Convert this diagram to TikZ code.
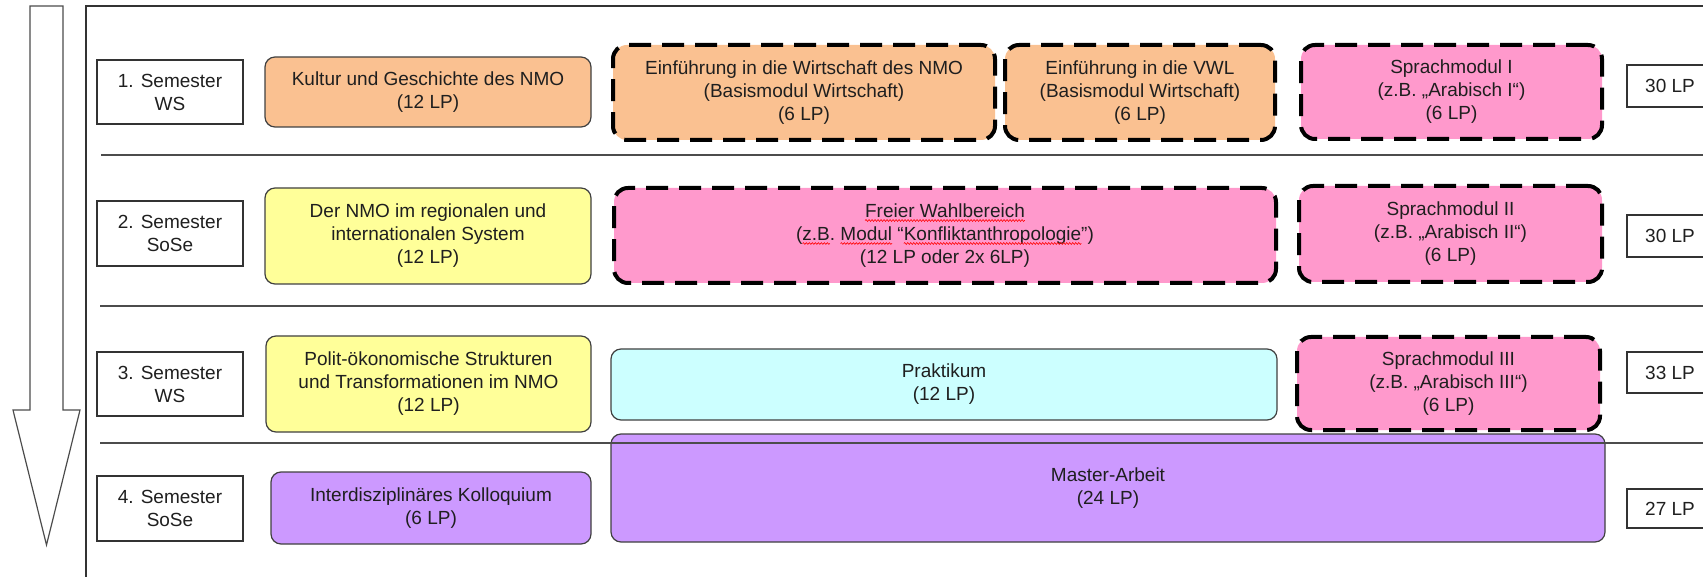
\documentclass[tikz,border=0pt]{standalone}
\usepackage{fontspec}
\setmainfont{Liberation Sans}
\usetikzlibrary{calc,decorations.pathmorphing}

\definecolor{txt}{HTML}{1F1F1F}
\definecolor{modorange}{HTML}{FAC191}
\definecolor{modyellow}{HTML}{FFFF99}
\definecolor{modpink}{HTML}{FF99CC}
\definecolor{modcyan}{HTML}{CCFFFF}
\definecolor{modpurple}{HTML}{CC99FF}

\newcommand{\modfont}{\fontsize{19}{23}\selectfont}
\newlength{\wahlA}\settowidth{\wahlA}{\modfont Freier Wahlbereich}
\newlength{\wahlL}\settowidth{\wahlL}{\modfont (z.B. Modul “Konfliktanthropologie”)}
\newlength{\preB}\settowidth{\preB}{\modfont (}
\newlength{\wahlB}\settowidth{\wahlB}{\modfont z.B}
\newlength{\preC}\settowidth{\preC}{\modfont (z.B. }
\newlength{\wahlC}\settowidth{\wahlC}{\modfont Modul}
\newlength{\preD}\settowidth{\preD}{\modfont (z.B. Modul “}
\newlength{\wahlD}\settowidth{\wahlD}{\modfont Konfliktanthropologie}

\tikzset{
  semester/.style={draw=black!80, line width=1.2pt, fill=white, text=txt, align=center, inner sep=0pt},
  modul/.style={draw=black!75, line width=1.2pt, rounded corners=10pt, text=txt, align=center, inner sep=0pt},
  wahl/.style={draw=black, line width=4pt, dash pattern=on 22pt off 11pt, rounded corners=14pt, text=txt, align=center, inner sep=0pt},
  spellmark/.style={red, line width=0.6pt, decorate, decoration={snake, amplitude=0.9pt, segment length=3pt}}
}

\begin{document}
\begin{tikzpicture}[x=1pt, y=-1pt, font=\modfont]
  \useasboundingbox (0,0) rectangle (1703,577);
  \clip (0,0) rectangle (1703,577);

  \draw[line width=1.2pt, black!70] (30,6) -- (63,6) -- (63,410) -- (80,410) -- (46.5,545) -- (13,410) -- (30,410) -- cycle;
  \draw[line width=1.2pt, black!80] (86,600) -- (86,6) -- (1720,6);

  \node[semester, minimum width=146pt, minimum height=64pt] (s1) at (170,92) {1. Semester\\WS};
  \node[semester, minimum width=146pt, minimum height=65pt] (s2) at (170,233.5) {2. Semester\\SoSe};
  \node[semester, minimum width=146pt, minimum height=64pt] (s3) at (170,384) {3. Semester\\WS};
  \node[semester, minimum width=146pt, minimum height=65pt] (s4) at (170,508.5) {4. Semester\\SoSe};

  \node[modul, fill=modorange, minimum width=326pt, minimum height=70pt] (kultur) at (428,92) {Kultur und Geschichte des NMO\\(12 LP)};
  \node[wahl, fill=modorange, minimum width=382pt, minimum height=95pt] (wiNMO) at (804,92.5) {Einführung in die Wirtschaft des NMO\\(Basismodul Wirtschaft)\\(6 LP)};
  \node[wahl, fill=modorange, minimum width=270pt, minimum height=95pt] (vwl) at (1140,92.5) {Einführung in die VWL\\(Basismodul Wirtschaft)\\(6 LP)};
  \node[wahl, fill=modpink, minimum width=301pt, minimum height=94pt] (sprA) at (1451.5,92) {Sprachmodul I\\(z.B. „Arabisch I“)\\(6 LP)};

  \node[modul, fill=modyellow, minimum width=326pt, minimum height=96pt] (system) at (428,236) {Der NMO im regionalen und\\internationalen System\\(12 LP)};
  \node[wahl, fill=modpink, minimum width=662pt, minimum height=95pt] (frei) at (945,235.5) {Freier Wahlbereich\\(z.B. Modul “Konfliktanthropologie”)\\(12 LP oder 2x 6LP)};
  \node[wahl, fill=modpink, minimum width=303pt, minimum height=96pt] (sprB) at (1450.5,234) {Sprachmodul II\\(z.B. „Arabisch II“)\\(6 LP)};

  \node[modul, fill=modyellow, minimum width=325pt, minimum height=96pt] (polit) at (428.5,384) {Polit-ökonomische Strukturen\\und Transformationen im NMO\\(12 LP)};
  \node[modul, fill=modcyan, minimum width=666pt, minimum height=71pt] (praktikum) at (944,384.5) {Praktikum\\(12 LP)};
  \node[wahl, fill=modpink, minimum width=303pt, minimum height=93pt] (sprC) at (1448.5,383.5) {Sprachmodul III\\(z.B. „Arabisch III“)\\(6 LP)};

  \node[modul, fill=modpurple, minimum width=320pt, minimum height=72pt] (kolloq) at (431,508) {Interdisziplinäres Kolloquium\\(6 LP)};
  \node[modul, fill=modpurple, minimum width=994pt, minimum height=108pt] (master) at (1108,488) {Master-Arbeit\\(24 LP)};

  \node[semester, minimum width=86pt, minimum height=42pt] (lp1) at (1670,86) {30 LP};
  \node[semester, minimum width=86pt, minimum height=42pt] (lp2) at (1670,236) {30 LP};
  \node[semester, minimum width=86pt, minimum height=41pt] (lp3) at (1670,372.5) {33 LP};
  \node[semester, minimum width=86pt, minimum height=39pt] (lp4) at (1670,508.5) {27 LP};

  \draw[spellmark] ($(frei.center)+(-0.5\wahlA,15pt)$) -- ++(\wahlA,0pt);
  \draw[spellmark] ($(frei.center)+(-0.5\wahlL+\preB,-8pt)$) -- ++(\wahlB,0pt);
  \draw[spellmark] ($(frei.center)+(-0.5\wahlL+\preC,-8pt)$) -- ++(\wahlC,0pt);
  \draw[spellmark] ($(frei.center)+(-0.5\wahlL+\preD,-8pt)$) -- ++(\wahlD,0pt);

  \draw[line width=1.2pt, black!70] (101,155) -- (1720,155);
  \draw[line width=1.2pt, black!70] (100,306) -- (1720,306);
  \draw[line width=1.2pt, black!70] (100,443) -- (1720,443);
\end{tikzpicture}
\end{document}
